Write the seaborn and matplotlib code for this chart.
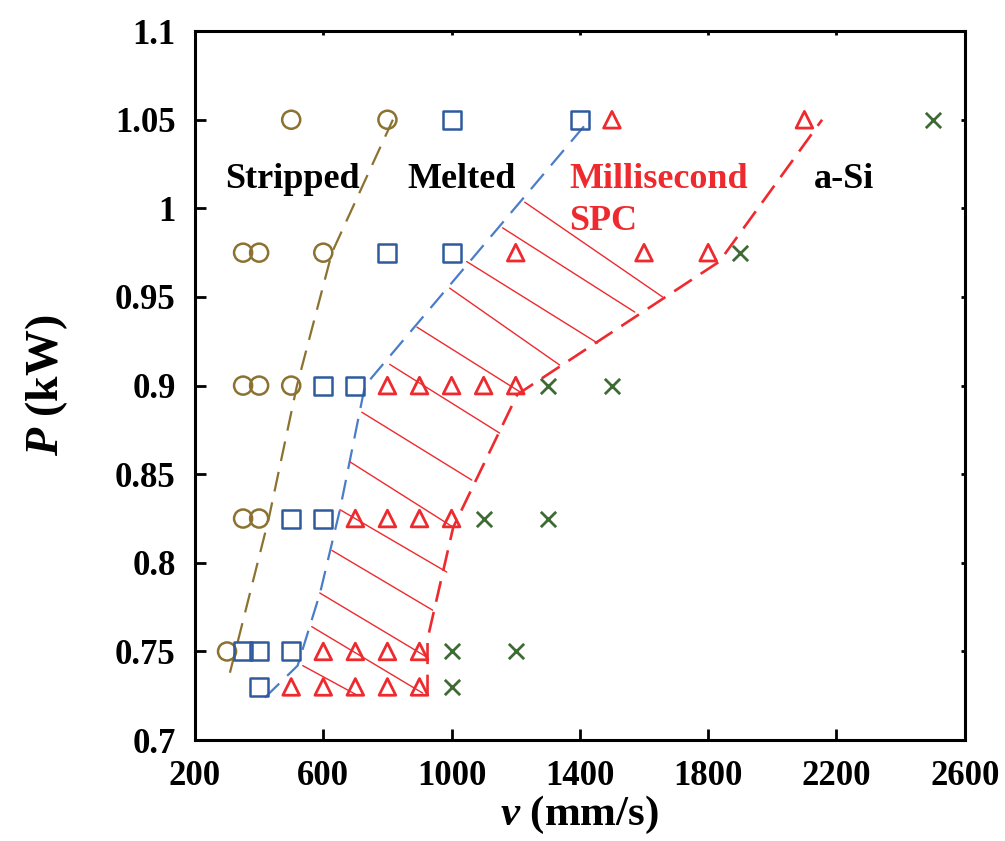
import numpy as np
import pandas as pd
import matplotlib
matplotlib.use("Agg")
import matplotlib.pyplot as plt
import seaborn as sns

# ---------------- data ----------------
stripped_v = [500, 800, 350, 400, 600, 350, 400, 500, 350, 400, 300]
stripped_P = [1.05, 1.05, 0.975, 0.975, 0.975, 0.9, 0.9, 0.9, 0.825, 0.825, 0.75]

melted_v = [1000, 1400, 800, 1000, 600, 700, 500, 600, 350, 400, 500, 400]
melted_P = [1.05, 1.05, 0.975, 0.975, 0.9, 0.9, 0.825, 0.825, 0.75, 0.75, 0.75, 0.73]

spc_v = [1500, 2100, 1200, 1600, 1800, 800, 900, 1000, 1100, 1200,
         700, 800, 900, 1000, 600, 700, 800, 900, 500, 600, 700, 800, 900]
spc_P = [1.05, 1.05, 0.975, 0.975, 0.975, 0.9, 0.9, 0.9, 0.9, 0.9,
         0.825, 0.825, 0.825, 0.825, 0.75, 0.75, 0.75, 0.75, 0.73, 0.73, 0.73, 0.73, 0.73]

asi_v = [2500, 1900, 1300, 1500, 1100, 1300, 1000, 1200, 1000]
asi_P = [1.05, 0.975, 0.9, 0.9, 0.825, 0.825, 0.75, 0.75, 0.73]

# boundary lines
strip_line_v = [309, 430, 518, 627, 817]
strip_line_P = [0.738, 0.825, 0.9, 0.975, 1.05]

melt_line_v = [418, 520, 590, 652, 730, 1430]
melt_line_P = [0.724, 0.742, 0.783, 0.83, 0.9, 1.05]

spc_line_v = [925, 925, 1005, 1205, 1835, 2155]
spc_line_P = [0.725, 0.757, 0.82, 0.895, 0.97, 1.05]

# hatch segments (start on melted boundary, end on SPC boundary)
hatch_v0 = [1228, 1159, 1047, 994, 892, 807, 720, 683, 652, 627, 589, 564, 536]
hatch_P0 = [1.0035, 0.989, 0.97, 0.955, 0.933, 0.912, 0.885, 0.857, 0.83, 0.807, 0.783, 0.764, 0.742]
hatch_v1 = [1658, 1571, 1455, 1337, 1219, 1150, 1063, 1004, 985, 941, 923, 910, 705]
hatch_P1 = [0.95, 0.9415, 0.924, 0.9116, 0.8958, 0.8732, 0.8467, 0.8202, 0.7948, 0.7733, 0.7468, 0.7265, 0.7254]

x_ticks = [200, 600, 1000, 1400, 1800, 2200, 2600]
y_ticks = [0.7, 0.75, 0.8, 0.85, 0.9, 0.95, 1.0, 1.05, 1.1]
y_tick_labels = ["0.7", "0.75", "0.8", "0.85", "0.9", "0.95", "1", "1.05", "1.1"]

# ---------------- style ----------------
sns.set_style("white")
plt.rcParams["font.family"] = ["Liberation Serif", "DejaVu Serif"]
plt.rcParams["font.weight"] = "bold"
plt.rcParams["mathtext.fontset"] = "custom"
plt.rcParams["mathtext.it"] = "Liberation Serif:italic:bold"
plt.rcParams["mathtext.rm"] = "Liberation Serif:bold"
plt.rcParams["axes.labelcolor"] = "black"
plt.rcParams["text.color"] = "black"

c_olive = "#8C7230"
c_blue_m = "#2F5A9E"
c_blue_l = "#4A7DC9"
c_red = "#EE2A2E"
c_green = "#3E6B34"

fig = plt.figure(figsize=(10.05, 8.41), dpi=100)
ax = fig.add_axes([0.194, 0.120, 0.766, 0.843])

# boundary lines
sns.lineplot(x=strip_line_v, y=strip_line_P, sort=False, estimator=None, ax=ax,
             color=c_olive, linewidth=1.6, linestyle=(0, (9, 5)))
sns.lineplot(x=melt_line_v, y=melt_line_P, sort=False, estimator=None, ax=ax,
             color=c_blue_l, linewidth=1.6, linestyle=(0, (9, 5)))
sns.lineplot(x=spc_line_v, y=spc_line_P, sort=False, estimator=None, ax=ax,
             color=c_red, linewidth=1.9, linestyle=(0, (8, 4)))

# hatch
hatch_df = pd.DataFrame({
    "v": np.concatenate([hatch_v0, hatch_v1]),
    "P": np.concatenate([hatch_P0, hatch_P1]),
    "seg": np.concatenate([np.arange(len(hatch_v0)), np.arange(len(hatch_v1))]),
})
sns.lineplot(data=hatch_df, x="v", y="P", units="seg", estimator=None, sort=False,
             ax=ax, color=c_red, linewidth=1.0)

# markers
def hollow(vs, ps, marker, color, size, lw):
    sns.scatterplot(x=vs, y=ps, marker=marker, s=size ** 2, color=color, ax=ax,
                    linewidth=lw, zorder=5)
    coll = ax.collections[-1]
    coll.set_edgecolor(color)
    if marker != "x":
        coll.set_facecolor("none")

hollow(stripped_v, stripped_P, "o", c_olive, 13, 1.8)
hollow(melted_v, melted_P, "s", c_blue_m, 13, 1.8)
hollow(spc_v, spc_P, "^", c_red, 12, 2.0)
hollow(asi_v, asi_P, "x", c_green, 11, 2.0)

# region labels
ax.text(505, 1.016, "Stripped", ha="center", va="center", fontsize=26,
        fontweight="bold", color="black")
ax.text(1032, 1.016, "Melted", ha="center", va="center", fontsize=26,
        fontweight="bold", color="black")
ax.text(1368, 1.0045, "Millisecond\nSPC", ha="left", va="center", fontsize=26,
        fontweight="bold", color=c_red, linespacing=1.35)
ax.text(2222, 1.016, "a-Si", ha="center", va="center", fontsize=26,
        fontweight="bold", color="black")

# axes
ax.set_xlim(200, 2600)
ax.set_ylim(0.7, 1.1)
ax.set_xticks(x_ticks)
ax.set_xticklabels([str(t) for t in x_ticks], fontsize=25, fontweight="bold")
ax.set_yticks(y_ticks)
ax.set_yticklabels(y_tick_labels, fontsize=25, fontweight="bold")
# small ticks on top/right at the same positions
ax.set_xticks(x_ticks, minor=True)
ax.set_yticks(y_ticks, minor=True)
ax.xaxis.remove_overlapping_locs = False
ax.yaxis.remove_overlapping_locs = False

for side in ["left", "bottom", "right", "top"]:
    ax.spines[side].set_visible(True)
    ax.spines[side].set_color("black")
    ax.spines[side].set_linewidth(2.2)

ax.tick_params(axis="both", which="major", direction="in", length=8, width=2,
               color="black", labelcolor="black",
               bottom=True, left=True, top=False, right=False)
ax.tick_params(axis="x", which="major", pad=14)
ax.tick_params(axis="y", which="major", pad=14)
ax.tick_params(axis="both", which="minor", direction="in", length=3, width=2,
               color="black", bottom=False, left=False, top=True, right=True,
               labelbottom=False, labelleft=False)

ax.set_xlabel(r"$v$ (mm/s)", fontsize=31, fontweight="bold", labelpad=1, color="black")
ax.set_ylabel(r"$P$ (kW)", fontsize=33, fontweight="bold", labelpad=32, color="black")

fig.savefig("out.png", dpi=100, facecolor="white")
